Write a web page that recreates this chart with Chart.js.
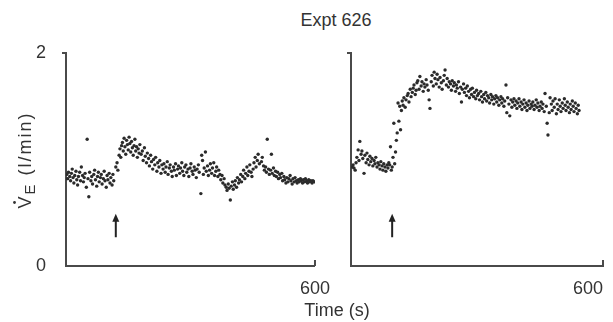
<!DOCTYPE html>
<html>
<head>
<meta charset="utf-8">
<script src="https://cdn.jsdelivr.net/npm/chart.js@4/dist/chart.umd.min.js"></script>
<style>
  body { margin:0; background:#fff; }
  #wrap { position:relative; width:613px; height:322px; overflow:hidden; font-family:"Liberation Sans", Arial, sans-serif; color:#333; }
  .box { position:absolute; top:0; height:322px; }
  .lbl { position:absolute; font-size:18px; line-height:1; white-space:nowrap; transform:translateX(-50%); }
</style>
</head>
<body>
<div id="wrap">
  <div class="lbl" style="left:336px; top:11px;">Expt 626</div>
  <div class="box" style="left:0; width:334px;"><canvas id="left"></canvas></div>
  <div class="box" style="left:334px; width:279px;"><canvas id="right"></canvas></div>
  <div class="lbl" style="left:337px; top:301px;">Time (s)</div>
</div>
<script>
// time (s), ventilation (l/min)
const leftPts = [
  [2,0.86],[4,0.82],[6,0.88],[9,0.84],[11,0.80],[13,0.87],[15,0.91],[17,0.83],[19,0.78],[21,0.85],
  [24,0.89],[26,0.81],[28,0.76],[30,0.84],[33,0.88],[35,0.80],[37,0.93],[40,0.85],[42,0.79],[44,0.83],
  [46,0.87],[49,0.74],[51,1.19],[53,0.82],[55,0.65],[57,0.88],[60,0.80],[62,0.84],[64,0.77],[67,0.86],
  [69,0.90],[71,0.81],[74,0.75],[76,0.84],[78,0.88],[80,0.79],[83,0.83],[85,0.86],[87,0.77],[90,0.82],
  [92,0.89],[94,0.80],[97,0.74],[99,0.85],[101,0.81],[104,0.87],[106,0.78],[108,0.83],[111,0.76],[113,0.86],
  [115,0.80],[120,0.93],[123,0.97],[125,0.90],[128,1.04],[130,1.10],[132,1.02],[134,1.13],[136,1.16],[138,1.08],
  [140,1.20],[142,1.12],[144,1.05],[146,1.18],[148,1.14],[150,1.09],[152,1.21],[154,1.15],[156,1.07],[158,1.17],
  [160,1.11],[162,1.04],[164,1.13],[166,1.19],[168,1.08],[170,1.12],[172,1.02],[174,1.10],[176,1.06],[178,1.14],
  [181,1.05],[184,1.08],[186,0.99],[189,1.11],[191,1.03],[194,0.97],[196,1.06],[199,1.01],[201,0.94],[204,1.04],
  [206,0.98],[209,0.91],[211,1.00],[214,0.95],[216,1.02],[219,0.89],[221,0.97],[224,0.93],[226,0.99],[229,0.87],
  [231,0.95],[234,0.91],[236,0.96],[239,0.88],[241,0.93],[244,0.98],[246,0.86],[249,0.92],[251,0.95],[254,0.89],
  [256,0.84],[259,0.93],[261,0.90],[264,0.96],[266,0.85],[269,0.91],[271,0.94],[274,0.87],[276,0.92],[279,0.97],
  [281,0.89],[284,0.85],[286,0.93],[289,0.95],[291,0.88],[294,0.91],[296,0.84],[299,0.92],[301,0.96],[304,0.89],
  [306,0.86],[309,0.93],[311,0.90],[314,0.83],[316,0.91],[319,0.95],[321,0.88],[325,0.68],[327,1.04],[329,0.99],
  [331,0.86],[333,0.92],[336,1.07],[338,0.89],[341,0.94],[343,0.85],[346,0.90],[348,0.96],[351,0.87],[353,0.92],
  [356,0.97],[358,0.85],[361,0.89],[363,0.93],[366,0.84],[368,0.90],[371,0.86],[373,0.81],[376,0.85],[378,0.78],
  [381,0.82],[383,0.76],[386,0.74],[388,0.71],[391,0.77],[393,0.73],[396,0.62],[398,0.75],[401,0.79],[403,0.72],
  [406,0.76],[408,0.80],[411,0.74],[413,0.83],[416,0.78],[418,0.81],[421,0.86],[423,0.79],[426,0.84],[428,0.90],
  [431,0.82],[433,0.87],[436,0.93],[438,0.85],[441,0.89],[443,0.95],[446,0.88],[448,0.84],[451,0.91],[453,0.97],
  [456,1.02],[458,0.93],[461,0.99],[463,1.05],[466,0.96],[471,0.98],[473,1.02],[476,0.94],[478,0.90],[481,0.93],
  [483,0.88],[485,1.19],[488,0.91],[490,0.86],[493,0.90],[495,1.05],[497,0.87],[500,0.92],[502,0.85],[505,0.89],
  [507,0.84],[510,0.88],[512,0.82],[515,0.86],[517,0.83],[520,0.87],[522,0.80],[525,0.84],[527,0.81],[530,0.78],
  [532,0.83],[535,0.79],[537,0.82],[540,0.85],[542,0.80],[545,0.77],[547,0.82],[550,0.79],[552,0.83],[555,0.80],
  [557,0.78],[560,0.81],[562,0.79],[565,0.82],[567,0.80],[570,0.78],[572,0.81],[575,0.79],[577,0.82],[580,0.80],
  [582,0.78],[585,0.81],[587,0.79],[590,0.80],[593,0.78],[595,0.80],[598,0.79]
];
const rightPts = [
  [3,0.93],[5,0.95],[7,0.92],[10,0.90],[12,0.97],[14,1.02],[17,1.09],[19,0.99],[21,1.17],[24,1.05],
  [26,1.08],[28,1.01],[31,0.87],[33,1.04],[36,0.97],[38,1.06],[40,1.00],[43,0.95],[45,1.03],[47,0.98],
  [50,1.01],[52,0.94],[55,0.99],[57,0.96],[59,1.02],[62,0.93],[64,0.97],[67,0.95],[69,0.91],[71,0.98],
  [74,0.94],[76,0.90],[78,0.96],[81,0.93],[83,0.89],[86,0.95],[88,0.92],[90,0.97],[92,0.95],[94,1.12],
  [96,0.90],[98,0.93],[100,1.02],[102,1.34],[104,0.96],[106,1.07],[108,1.18],[110,1.25],[112,1.53],[114,1.36],
  [116,1.50],[118,1.28],[120,1.46],[122,1.55],[124,1.51],[126,1.58],[129,1.49],[131,1.56],[134,1.60],[136,1.62],
  [138,1.54],[141,1.66],[143,1.59],[146,1.63],[148,1.67],[150,1.70],[153,1.61],[155,1.65],[157,1.72],[159,1.74],
  [162,1.66],[164,1.78],[167,1.69],[169,1.73],[172,1.64],[174,1.71],[176,1.68],[179,1.75],[181,1.70],[184,1.65],
  [186,1.56],[188,1.48],[191,1.73],[193,1.79],[196,1.69],[198,1.82],[200,1.76],[203,1.71],[205,1.80],[207,1.75],
  [210,1.68],[212,1.77],[215,1.72],[217,1.66],[220,1.74],[222,1.79],[224,1.84],[227,1.70],[229,1.76],[232,1.68],
  [234,1.73],[237,1.71],[239,1.65],[241,1.74],[244,1.69],[246,1.72],[249,1.64],[251,1.70],[253,1.67],[256,1.73],
  [258,1.62],[261,1.68],[263,1.54],[265,1.66],[268,1.71],[270,1.63],[273,1.67],[275,1.60],[277,1.69],[280,1.64],
  [282,1.58],[285,1.66],[287,1.61],[289,1.67],[292,1.59],[294,1.63],[297,1.57],[299,1.65],[301,1.60],[304,1.62],
  [306,1.56],[309,1.64],[311,1.59],[313,1.54],[316,1.61],[318,1.57],[321,1.63],[323,1.55],[325,1.60],[328,1.58],
  [330,1.53],[333,1.61],[335,1.56],[337,1.59],[340,1.52],[342,1.57],[345,1.60],[347,1.54],[349,1.58],[352,1.51],
  [354,1.56],[357,1.59],[359,1.53],[361,1.57],[364,1.50],[366,1.55],[369,1.70],[371,1.44],[373,1.58],[376,1.52],
  [378,1.41],[381,1.56],[383,1.49],[385,1.54],[388,1.57],[390,1.51],[393,1.55],[395,1.48],[397,1.53],[400,1.57],
  [402,1.50],[405,1.54],[407,1.47],[409,1.52],[412,1.56],[414,1.49],[417,1.53],[419,1.46],[421,1.51],[424,1.55],
  [426,1.48],[429,1.52],[431,1.50],[433,1.54],[436,1.47],[438,1.51],[441,1.56],[443,1.49],[445,1.53],[448,1.46],
  [450,1.50],[453,1.54],[455,1.48],[457,1.52],[460,1.45],[462,1.62],[465,1.50],[467,1.34],[469,1.23],[472,1.44],
  [474,1.58],[477,1.52],[479,1.46],[481,1.55],[484,1.49],[486,1.57],[489,1.43],[491,1.52],[493,1.47],[496,1.56],
  [498,1.50],[500,1.45],[503,1.53],[505,1.48],[508,1.57],[510,1.51],[512,1.46],[515,1.54],[517,1.49],[520,1.44],
  [522,1.52],[524,1.47],[527,1.55],[529,1.50],[531,1.45],[534,1.53],[536,1.48],[539,1.43],[541,1.51],[543,1.46]
];
const arrowTimes = [120, 98];     // stimulus onset (s)
const arrowSpan = [0.27, 0.49];   // arrow bottom/top in l/min
const xTicks = [0, 600];
const yTicks = [0, 2];

const ink = '#2b2b2b', axisCol = '#4a4a4a', textCol = '#333';
Chart.defaults.font.family = '"Liberation Sans", Arial, sans-serif';
Chart.defaults.font.size = 18;
Chart.defaults.color = textCol;

// arrows + little end ticks on the axes
const extras = {
  id: 'extras',
  afterDatasetsDraw(chart, args, o) {
    const c = chart.ctx, x = chart.scales.x, y = chart.scales.y, a = chart.chartArea;
    c.save();
    c.strokeStyle = axisCol; c.lineWidth = 2;
    c.beginPath();
    c.moveTo(a.right, a.bottom); c.lineTo(a.right, a.bottom - 6);
    c.moveTo(a.left - 4, a.top); c.lineTo(a.left, a.top);
    c.stroke();
    const ax = x.getPixelForValue(o.t), y0 = y.getPixelForValue(arrowSpan[0]), y1 = y.getPixelForValue(arrowSpan[1]);
    c.strokeStyle = '#222'; c.fillStyle = '#222'; c.lineWidth = 2;
    c.beginPath(); c.moveTo(ax, y0); c.lineTo(ax, y1 + 6); c.stroke();
    c.beginPath(); c.moveTo(ax, y1); c.lineTo(ax - 3.5, y1 + 8); c.lineTo(ax + 3.5, y1 + 8); c.closePath(); c.fill();
    c.restore();
  }
};

// rotated y title with dot over V and subscript E
const yTitle = {
  id: 'yTitle',
  afterDraw(chart) {
    const c = chart.ctx;
    c.save();
    c.translate(31, 160);
    c.rotate(-Math.PI / 2);
    c.fillStyle = textCol;
    c.textBaseline = 'alphabetic';
    c.letterSpacing = '2px';
    const big = '18px "Liberation Sans", Arial, sans-serif', small = '15px "Liberation Sans", Arial, sans-serif';
    const rest = ' (l/min)';
    c.font = big; const wV = c.measureText('V').width, wR = c.measureText(rest).width;
    c.font = small; const wE = c.measureText('E').width;
    let px = -(wV + wE + wR) / 2;
    c.font = big; c.fillText('V', px, 0);
    c.beginPath(); c.arc(px + wV / 2 - 1, -16.5, 1.4, 0, Math.PI * 2); c.fill();
    px += wV;
    c.font = small; c.fillText('E', px, 4); px += wE;
    c.font = big; c.fillText(rest, px, 0);
    c.restore();
  }
};

function panel(id, pts, t, showY, yWidth, padRight) {
  return new Chart(document.getElementById(id), {
    type: 'scatter',
    data: { datasets: [{ data: pts.map(p => ({ x: p[0], y: p[1] })), pointRadius: 1.7, pointBorderWidth: 0, backgroundColor: ink, borderColor: ink }] },
    options: {
      responsive: true, maintainAspectRatio: false, animation: false,
      layout: { padding: { top: 53, right: padRight, left: 0, bottom: 0 } },
      plugins: { legend: { display: false }, tooltip: { enabled: false }, extras: { t } },
      scales: {
        x: {
          type: 'linear', min: xTicks[0], max: xTicks[1],
          afterBuildTicks: s => { s.ticks = xTicks.map(v => ({ value: v })); },
          afterFit: s => { s.height = 56; },
          grid: { display: false },
          border: { color: axisCol, width: 2 },
          ticks: { padding: 4, maxRotation: 0, align: showY ? 'center' : 'end', callback: v => v === 600 ? '600' : '' }
        },
        y: {
          min: yTicks[0], max: yTicks[1],
          afterBuildTicks: s => { s.ticks = yTicks.map(v => ({ value: v })); },
          afterFit: s => { s.width = yWidth; },
          grid: { display: false },
          border: { color: axisCol, width: 2 },
          ticks: { display: showY, padding: 12 }
        }
      }
    },
    plugins: showY ? [extras, yTitle] : [extras]
  });
}

panel('left', leftPts, arrowTimes[0], true, 66, 17);
panel('right', rightPts, arrowTimes[1], false, 17, 10);
</script>
</body>
</html>
